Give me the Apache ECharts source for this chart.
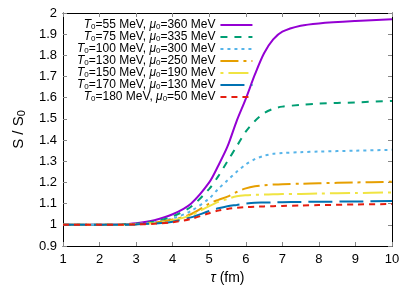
<!DOCTYPE html>
<html><head><meta charset="utf-8">
<script src="https://cdn.jsdelivr.net/npm/echarts@6/dist/echarts.min.js"></script>
<style>html,body{margin:0;padding:0;background:#fff}#c{width:412px;height:291px}</style>
</head><body><div id="c"></div>
<script>
const tau = [1,2,2.5,3,3.5,4,4.5,5,5.25,5.5,5.75,6,6.25,6.5,6.75,7,7.5,8,9,10];
const s55  = [1,1,1.002,1.008,1.022,1.05,1.1,1.2,1.28,1.37,1.49,1.595,1.71,1.81,1.875,1.912,1.94,1.951,1.962,1.97];
const s75  = [1,1,1.001,1.005,1.015,1.04,1.085,1.17,1.23,1.3,1.37,1.44,1.49,1.527,1.548,1.558,1.566,1.572,1.578,1.585];
const s100 = [1,1,1.001,1.004,1.012,1.03,1.065,1.125,1.17,1.21,1.25,1.285,1.31,1.326,1.335,1.339,1.343,1.346,1.35,1.354];
const s130 = [1,1,1,1.003,1.01,1.025,1.05,1.1,1.118,1.133,1.155,1.172,1.182,1.187,1.19,1.192,1.194,1.196,1.2,1.203];
const s150 = [1,1,1,1.003,1.008,1.02,1.045,1.088,1.108,1.122,1.135,1.14,1.142,1.143,1.144,1.145,1.146,1.148,1.15,1.153];
const s170 = [1,1,1,1.002,1.006,1.015,1.035,1.065,1.078,1.088,1.094,1.1,1.104,1.105,1.106,1.107,1.108,1.109,1.11,1.112];
const s180 = [1,1,1,1.002,1.005,1.012,1.028,1.055,1.067,1.075,1.08,1.084,1.086,1.087,1.088,1.089,1.091,1.093,1.096,1.098];
const labels = [
  ['55','360'],['75','335'],['100','300'],['130','250'],['150','190'],['170','130'],['180','50']
];
const colors = ['#9400d3','#009e73','#56b4e9','#e69f00','#f0e442','#0072b2','#e51e10'];
const dashes = ['solid',[7,7],[3,4],[18,5,3,5],[3,5,20,5],[24,7],[6,5]];
const values = [s55,s75,s100,s130,s150,s170,s180];
const font = '"Liberation Sans", Arial, sans-serif';

const series = values.map((v,i)=>({
  name: 'T'+i,
  type: 'line',
  smooth: 0.3,
  symbol: 'none',
  data: tau.map((t,k)=>[t,v[k]]),
  lineStyle: {color: colors[i], width: 2, type: dashes[i]},
  itemStyle: {color: colors[i]}
}));

const chart = echarts.init(document.getElementById('c'));
const axisCommon = {
  axisLine: {show: true, lineStyle: {color: '#000', width: 1}},
  axisTick: {inside: true, length: 4, lineStyle: {color: '#888'}},
  splitLine: {show: false}
};
chart.setOption({
  animation: false,
  textStyle: {fontFamily: font},
  grid: {left: 63, right: 20, top: 13, bottom: 45},
  legend: {
    orient: 'vertical', align: 'right', left: 77, top: 19, padding: 0,
    itemWidth: 32, itemHeight: 11, itemGap: 0,
    itemStyle: {color: 'transparent', borderColor: 'transparent', borderWidth: 0},
    data: series.map(s=>s.name),
    formatter: function(n){
      const i = +n.slice(1);
      return '{i|T}{s|0}=' + labels[i][0] + ' MeV, {i|μ}{s|0}=' + labels[i][1] + ' MeV';
    },
    textStyle: {
      fontSize: 12, color: '#000', fontFamily: font, lineHeight: 11,
      rich: {
        i: {fontStyle: 'italic', fontSize: 12, fontFamily: font, lineHeight: 11},
        s: {fontSize: 8, fontFamily: font, lineHeight: 3, verticalAlign: 'bottom'}
      }
    }
  },
  xAxis: [
    Object.assign({type: 'value', min: 1, max: 10, interval: 1,
      name: '{i|τ} (fm)', nameLocation: 'middle', nameGap: 21,
      nameTextStyle: {fontSize: 14, color: '#000', fontFamily: font,
        rich: {i: {fontStyle: 'italic', fontSize: 14, fontFamily: font}}},
      axisLabel: {fontSize: 13, color: '#000', margin: 7, fontFamily: font}
    }, axisCommon),
    Object.assign({type: 'value', min: 1, max: 10, interval: 1, position: 'top',
      axisLabel: {show: false}}, axisCommon)
  ],
  yAxis: [
    Object.assign({type: 'value', min: 0.9, max: 2, interval: 0.1,
      name: 'S / S{s|0}', nameLocation: 'middle', nameGap: 36,
      nameTextStyle: {fontSize: 15, color: '#000', fontFamily: font, lineHeight: 16,
        rich: {s: {fontSize: 11, fontFamily: font, lineHeight: 4, verticalAlign: 'bottom'}}},
      axisLabel: {fontSize: 13, color: '#000', margin: 6, fontFamily: font,
        formatter: v => String(Math.round(v*10)/10)}
    }, axisCommon),
    Object.assign({type: 'value', min: 0.9, max: 2, interval: 0.1, position: 'right',
      axisLabel: {show: false}}, axisCommon)
  ],
  series: series
});
</script></body></html>
